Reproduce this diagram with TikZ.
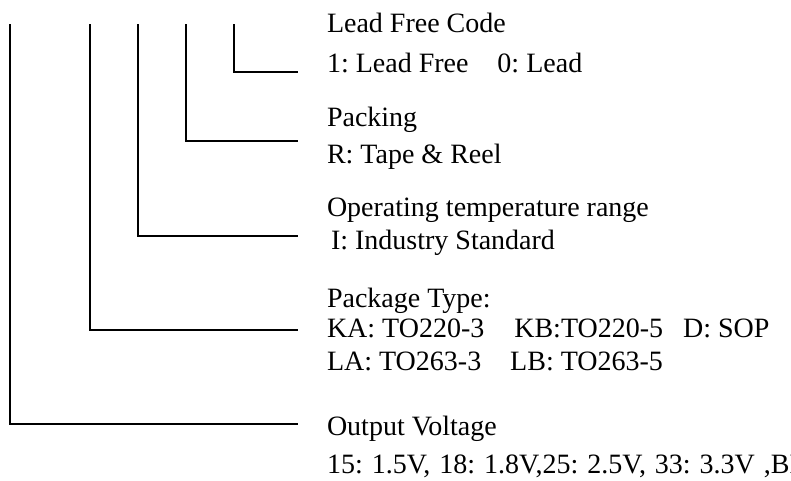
\documentclass[tikz,border=0pt]{standalone}
\usepackage{fontspec}
\setmainfont{Liberation Serif}
\frenchspacing
\begin{document}
\begin{tikzpicture}[x=0.75pt,y=-0.75pt,line width=1.5pt,font=\fontsize{21}{25}\selectfont,
  lbl/.style={anchor=base west,inner sep=0pt}]
\clip (0,0) rectangle (791,480);
% legs of the code
\coordinate (leadTop) at (234,24); \coordinate (leadEnd) at (298,72);
\coordinate (packTop) at (186,24); \coordinate (packEnd) at (298,141);
\coordinate (tempTop) at (138,24); \coordinate (tempEnd) at (298,236);
\coordinate (typeTop) at (90,24);  \coordinate (typeEnd) at (298,330);
\coordinate (voltTop) at (10,24);  \coordinate (voltEnd) at (298,424);
\draw (leadTop) |- (leadEnd);
\draw (packTop) |- (packEnd);
\draw (tempTop) |- (tempEnd);
\draw (typeTop) |- (typeEnd);
\draw (voltTop) |- (voltEnd);
% texts
\node[lbl] (leadHead) at (326,32) {Lead Free Code};
\node[lbl] (leadOpt) at (326,72) {1: Lead Free\hspace{21.75pt}0: Lead};
\node[lbl] (packHead) at (326,126) {Packing};
\node[lbl] (packOpt) at (326,163) {R: Tape \& Reel};
\node[lbl] (tempHead) at (326,216) {Operating temperature range};
\node[lbl] (tempOpt) at (330,249) {I: Industry Standard};
\node[lbl] (typeHead) at (326,307) {Package Type:};
\node[lbl] (typeOptA) at (326,337) {KA: TO220-3\hspace{22.5pt}KB:TO220-5\hspace{15pt}D: SOP};
\node[lbl] (typeOptB) at (326,370) {LA: TO263-3\hspace{21.75pt}LB: TO263-5};
\node[lbl] (voltHead) at (326,435) {Output Voltage};
\node[lbl] (voltOpt) at (326,473) {\spaceskip=0.32em\relax 15: 1.5V, 18: 1.8V,25: 2.5V, 33: 3.3V ,BL};
\end{tikzpicture}
\end{document}
